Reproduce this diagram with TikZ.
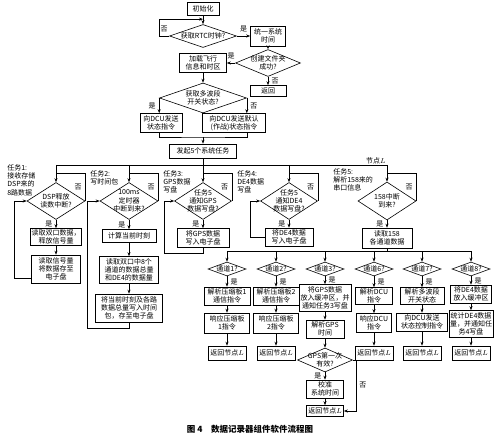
\documentclass[tikz,border=0pt]{standalone}
\usepackage{fontspec}
\setmainfont{Noto Sans CJK SC}
\usetikzlibrary{arrows.meta,calc,shapes.geometric}
\tikzset{ln/.style={-{Stealth[length=4pt,width=3pt]}},
  blk/.style={draw, align=center, inner sep=1pt},
  cnd/.style={diamond, draw, align=center, inner sep=-6pt, aspect=#1},
  cnd/.default=1.6,
  note/.style={align=left, anchor=north west, inner sep=0pt}}

\begin{document}
\begin{tikzpicture}[x=1pt, y=-1pt, line width=.6pt, font=\fontsize{7}{8.3}\selectfont]
  \useasboundingbox (0,0) rectangle (500,438);
  % start-up
  \node[blk, minimum width=32pt, minimum height=13pt] (init) at (203,9) {初始化};
  \node[cnd=2.9, minimum width=67pt, minimum height=23pt] (rtc) at (203,36) {获取RTC时钟?};
  \node[blk, minimum width=35pt, minimum height=20pt] (sync) at (268,36) {统一系统\\时间};
  \node[cnd=2.4, minimum width=65pt, minimum height=27pt] (mkdir) at (268,63) {创建文件夹\\成功?};
  \node[blk, minimum width=47pt, minimum height=19pt] (load) at (203,63) {加载飞行\\信息和时区};
  \node[blk, minimum width=36pt, minimum height=11pt] (ret0) at (268,91) {返回};
  \node[cnd=2.9, minimum width=87pt, minimum height=30pt] (mode) at (203,98) {获取多波段\\开关状态?};
  \node[blk, minimum width=42pt, minimum height=19pt] (dcu1) at (161,123) {向DCU发送\\状态指令};
  \node[blk, minimum width=63pt, minimum height=19pt] (dcu2) at (234,123) {向DCU发送默认\\(作战)状态指令};
  \node[blk, minimum width=67pt, minimum height=14pt] (start) at (203,151) {发起5个系统任务};
  \coordinate (m0) at (203,137);
  \draw[ln] (init) -- (rtc);
  \draw[ln] (rtc.west) -- node[above]{否} ++(-10,0) |- ($(init.south)!.4!(rtc.north)$);
  \draw[ln] (rtc) -- node[above]{是} (sync);
  \draw[ln] (sync) -- (mkdir);
  \draw[ln] (mkdir) -- node[above]{是} (load);
  \draw[ln] (mkdir) -- node[right]{否} (ret0);
  \draw[ln] (load) -- (mode);
  \draw[ln] (mode.west) -- node[left]{是} (mode.west |- dcu1.north);
  \draw[ln] (mode.east) -- node[right]{否} (mode.east |- dcu2.north);
  \draw (mode.west |- dcu1.south) |- (m0) -| (mode.east |- dcu2.south);
  \draw[ln] (m0) -- (start);

  % five tasks
  \coordinate (tbus) at (0,165);
  \coordinate (tjn) at (0,173);
  \node[cnd, minimum width=58pt, minimum height=37pt] (t1) at (56,201) {DSP释放\\读数中断?};
  \node[cnd, minimum width=58pt, minimum height=37pt] (t2) at (129,201) {100ms\\定时器\\中断到来?};
  \node[cnd, minimum width=57pt, minimum height=37pt] (t3) at (203,201) {任务5\\通知GPS\\数据写盘?};
  \node[cnd, minimum width=57pt, minimum height=37pt] (t4) at (289,201) {任务5\\通知DE4\\数据写盘?};
  \node[cnd, minimum width=58pt, minimum height=38pt] (t5) at (387,201) {158中断\\到来?};
  \node[note] (n1) at (7,164) {任务1:\\接收存储\\DSP来的\\8路数据};
  \node[note] (n2) at (90,170) {任务2:\\写时间包};
  \node[note] (n3) at (163,170) {任务3:\\GPS数据\\写盘};
  \node[note] (n4) at (237,170) {任务4:\\DE4数据\\写盘};
  \node[note] (n5) at (333,168) {任务5:\\解析158来的\\串口信息};
  \node[above left, inner sep=1pt] (nl) at (t5 |- tbus) {节点$L$};
  \draw (start) -- (start |- tbus);
  \draw (t1 |- tbus) -- (t5 |- tbus);
  \foreach \i in {1,...,5}{
    \draw[ln] (t\i |- tbus) -- (t\i);
    \draw (t\i.east) |- node[pos=.25,left]{否} (t\i |- tjn);}

  \node[blk, minimum width=51pt, minimum height=17pt] (a1) at (56,237) {读取双口数据，\\释放信号量};
  \node[blk, minimum width=49pt, minimum height=28pt] (b1) at (56,269) {读取信号量\\将数据存至\\电子盘};
  \node[blk, minimum width=54pt, minimum height=13pt] (a2) at (129,236) {计算当前时刻};
  \node[blk, minimum width=59pt, minimum height=27pt] (b2) at (129,270) {读取双口中8个\\通道的数据总量\\和DE4的数据量};
  \node[blk, minimum width=67pt, minimum height=28pt] (e2) at (129,308) {将当前时刻及各路\\数据总量写入时间\\包，存至电子盘};
  \node[blk, minimum width=52pt, minimum height=19pt] (a3) at (203,238) {将GPS数据\\写入电子盘};
  \node[blk, minimum width=48pt, minimum height=18pt] (a4) at (289,237) {将DE4数据\\写入电子盘};
  \node[blk, minimum width=50pt, minimum height=20pt] (a5) at (387,238) {读取158\\各通道数据};
  \foreach \i in {1,...,5} \draw[ln] (t\i) -- node[left]{是} (a\i);
  \draw[ln] (a1) -- (b1);
  \draw[ln] (a2) -- (b2);
  \draw[ln] (b2) -- (e2);
  \draw[ln] ($(b1.south west)+(0,-5)$) -| ($(t1.west)+(-12,0)$) -- (t1.west);
  \draw[ln] (e2.south) -- ++(0,6) -| ($(t2.west)+(-12,0)$) -- (t2.west);
  \draw[ln] (a3.south) -- ++(0,5) -| ($(t3.west)+(-10,0)$) -- (t3.west);
  \draw[ln] (a4.west) -| ($(t4.west)+(-10,0)$) -- (t4.west);

  % channels of task 5
  \coordinate (cbus) at (0,251);
  \foreach \k/\x in {1/227,2/276,3/325,6/374,7/422,8/471}
    \node[cnd=2.7, minimum width=38pt, minimum height=14pt] (c\k) at (\x,269) {通道\k?};
  \draw (a5) -- (a5 |- cbus);
  \draw (c1 |- cbus) -- (c8 |- cbus);
  \node[blk, minimum width=46pt, minimum height=18pt] (p1) at (227,296) {解析压缩板1\\通信指令};
  \node[blk, minimum width=46pt, minimum height=18pt] (p2) at (276,296) {解析压缩板2\\通信指令};
  \node[blk, minimum width=52pt, minimum height=27pt] (p3) at (325,298) {将GPS数据\\放入缓冲区，并\\通知任务3写盘};
  \node[blk, minimum width=37pt, minimum height=17pt] (p6) at (374,296) {解析DCU\\指令};
  \node[blk, minimum width=44pt, minimum height=17pt] (p7) at (422,296) {解析多波段\\开关状态};
  \node[blk, minimum width=41pt, minimum height=18pt] (p8) at (471,294) {将DE4数据\\放入缓冲区};
  \node[blk, minimum width=45pt, minimum height=20pt] (q1) at (227,323) {响应压缩板\\1指令};
  \node[blk, minimum width=45pt, minimum height=20pt] (q2) at (276,323) {响应压缩板\\2指令};
  \node[blk, minimum width=38pt, minimum height=18pt] (q3) at (325,329) {解析GPS\\时间};
  \node[blk, minimum width=35pt, minimum height=19pt] (q6) at (374,323) {响应DCU\\指令};
  \node[blk, minimum width=51pt, minimum height=18pt] (q7) at (422,322) {向DCU发送\\状态控制指令};
  \node[blk, minimum width=44pt, minimum height=27pt] (q8) at (471,324) {统计DE4数据\\量，并通知任\\务4写盘};
  \foreach \k/\x in {1/227,2/276,6/374,7/422,8/471}
    \node[blk, minimum width=38pt, minimum height=14pt] (r\k) at (\x,353) {返回节点$L$};
  \foreach \k in {1,2,3,6,7,8}{
    \draw[ln] (c\k |- cbus) -- (c\k);
    \draw[ln] (c\k) -- node[right]{是} (p\k);
    \draw[ln] (p\k) -- (q\k);}
  \foreach \k in {1,2,6,7,8} \draw[ln] (q\k) -- (r\k);

  % GPS time check
  \node[cnd=2.3, minimum width=55pt, minimum height=24pt] (g) at (325,360) {GPS第一次\\有效?};
  \node[blk, minimum width=37pt, minimum height=18pt] (cal) at (325,389) {校准\\系统时间};
  \node[blk, minimum width=37pt, minimum height=11pt] (r3) at (325,411) {返回节点$L$};
  \draw[ln] (q3) -- (g);
  \draw[ln] (g) -- node[left]{是} (cal);
  \draw[ln] (cal) -- (r3);
  \draw[ln] (g.east) -- ++(3,0) |- node[pos=.25,right]{否} (r3);

  \node[font=\fontsize{8.5}{10}\selectfont\bfseries] (cap) at (250,429) {图 4\quad 数据记录器组件软件流程图};
\end{tikzpicture}
\end{document}
